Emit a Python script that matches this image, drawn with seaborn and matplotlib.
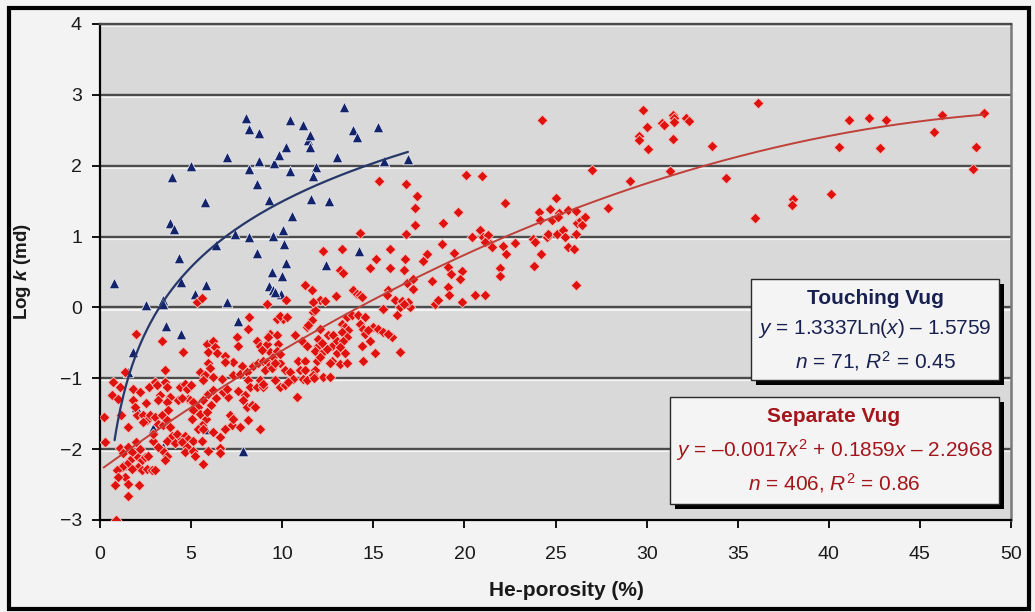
import numpy as np
import pandas as pd
import matplotlib
matplotlib.use("Agg")
import matplotlib.pyplot as plt
import matplotlib.transforms as mtransforms
from matplotlib.patches import Rectangle
import seaborn as sns

# ---------------------------------------------------------------------------
# Data: He-porosity (%) vs log permeability (md)
# ---------------------------------------------------------------------------
touching_vug = [
    (0.77, 0.34), (8.0, 2.68), (8.2, 2.52), (8.7, 2.46), (6.97, 2.13), (5.0, 1.99),
    (3.97, 1.84), (5.75, 1.49), (3.82, 1.19), (4.04, 1.10), (4.34, 0.70), (4.45, 0.36),
    (5.23, 0.19), (5.82, 0.32), (3.46, 0.11), (2.5, 0.03), (6.95, 0.07), (6.35, 0.88),
    (7.43, 1.03), (8.16, 0.99), (8.62, 0.77), (8.2, 1.96), (8.71, 2.07), (8.6, 1.74),
    (9.3, 1.51), (9.57, 2.04), (9.8, 2.15), (10.19, 2.27), (10.41, 2.65), (10.43, 1.92),
    (11.12, 2.58), (11.43, 2.36), (11.5, 2.43), (11.53, 2.26), (11.84, 1.98), (11.71, 1.86),
    (11.58, 1.53), (12.57, 1.50), (12.99, 2.12), (13.39, 2.83), (13.87, 2.50), (14.09, 2.40),
    (15.28, 2.55), (15.6, 2.07), (16.92, 2.10), (10.54, 1.29), (10.06, 1.09), (9.51, 1.01),
    (10.08, 0.90), (10.21, 0.62), (9.44, 0.50), (9.97, 0.45), (9.29, 0.30), (9.48, 0.25),
    (9.93, 0.19), (12.39, 0.60), (14.23, 0.80), (3.6, -0.26), (4.45, -0.37), (7.57, -0.19),
    (1.79, -0.63), (1.52, -0.91), (1.98, -1.41), (2.89, -1.70), (5.82, -1.71), (3.44, -1.97),
    (1.32, -2.0), (1.24, -2.23), (7.87, -2.02), (3.44, 0.05), (9.62, 0.22),
]

# Separate-vug samples, grouped by porosity range
separate_low = [
    (1.98, -0.37), (3.38, -0.47), (4.54, -0.63), (3.57, -0.89), (1.37, -0.91), (0.69, -1.05),
    (1.10, -1.13), (0.64, -1.23), (1.0, -1.29), (1.83, -1.15), (1.83, -1.31), (2.71, -1.13),
    (3.02, -1.05), (3.57, -1.05), (3.66, -1.13), (4.39, -1.13), (3.29, -1.24), (3.84, -1.27),
    (3.2, -1.31), (3.66, -1.34), (4.3, -1.31), (0.22, -1.55), (1.13, -1.52), (2.01, -1.52),
    (2.38, -1.52), (2.56, -1.59), (2.38, -1.62), (2.74, -1.52), (3.02, -1.55), (3.39, -1.52),
    (3.2, -1.64), (3.48, -1.66), (3.66, -1.59), (3.84, -1.69), (3.93, -1.81), (3.66, -1.88),
    (4.2, -1.78), (4.39, -1.88), (4.12, -1.92), (1.55, -1.69), (0.27, -1.90), (1.1, -1.99),
    (1.28, -2.06), (1.55, -1.97), (1.74, -2.04), (2.1, -2.11), (2.29, -2.16), (2.47, -2.11),
    (2.65, -2.09), (2.1, -2.25), (2.29, -2.30), (2.56, -2.28), (2.84, -2.30), (3.02, -2.30),
    (1.65, -2.16), (1.46, -2.21), (1.19, -2.25), (0.91, -2.30), (1.74, -2.28), (1.37, -2.39),
    (1.0, -2.39), (0.82, -2.51), (1.55, -2.49), (2.16, -2.51), (1.55, -2.66), (0.88, -3.0),
    (2.93, -1.88), (3.48, -2.02), (3.66, -2.09), (3.57, -2.16), (1.92, -1.41), (2.0, -1.90),
    (2.2, -2.0), (3.11, -1.10), (2.93, -1.78), (3.2, -1.97), (3.75, -1.45), (2.5, -1.35),
    (2.2, -1.2),
]

separate_mid = [
    (8.2, -0.13), (8.14, -0.30), (5.86, -0.51), (6.22, -0.47), (6.31, -0.56), (5.94, -0.63),
    (6.4, -0.65), (6.86, -0.68), (7.32, -0.77), (7.5, -0.42), (7.59, -0.54), (8.6, -0.47),
    (8.78, -0.54), (6.86, -0.77), (7.78, -0.82), (5.94, -0.79), (6.04, -0.86), (5.49, -0.91),
    (5.76, -0.96), (5.67, -1.03), (6.22, -0.98), (6.68, -1.01), (7.32, -0.96), (7.68, -0.94),
    (8.05, -0.91), (8.41, -0.82), (8.69, -0.79), (8.96, -0.75), (8.14, -1.03), (8.23, -1.12),
    (8.6, -1.12), (8.96, -1.13), (4.67, -1.08), (4.85, -1.29), (4.94, -1.31), (5.12, -1.34),
    (5.4, -1.41), (5.12, -1.45), (5.67, -1.31), (5.94, -1.22), (6.22, -1.17), (7.04, -1.27),
    (7.96, -1.24), (7.87, -1.31), (8.05, -1.41), (8.32, -1.38), (8.51, -1.41), (5.03, -1.57),
    (5.49, -1.50), (5.82, -1.57), (5.58, -1.66), (5.4, -1.71), (5.67, -1.71), (6.22, -1.76),
    (6.86, -1.71), (7.23, -1.66), (7.13, -1.52), (7.32, -1.57), (7.68, -1.69), (8.14, -1.59),
    (8.78, -1.71), (6.59, -1.83), (4.67, -1.81), (4.85, -1.85), (5.12, -1.88), (5.58, -1.88),
    (4.48, -1.90), (4.76, -1.97), (4.67, -2.04), (5.12, -2.02), (5.21, -2.09), (5.94, -2.02),
    (6.59, -1.99), (6.59, -2.06), (5.67, -2.21), (4.8, -1.15), (5.0, -1.10), (4.5, -1.28),
    (6.1, -1.38), (6.35, -1.28), (5.9, -1.47), (6.77, -1.19), (6.95, -1.15), (7.55, -1.18),
]

separate_upper_mid = [
    (11.71, -0.07), (9.7, -0.16), (10.06, -0.16), (9.88, -0.12), (10.25, -0.14), (11.62, -0.18),
    (11.34, -0.28), (12.07, -0.30), (9.33, -0.37), (9.7, -0.39), (10.7, -0.39), (11.07, -0.47),
    (12.53, -0.39), (9.15, -0.51), (11.34, -0.54), (11.98, -0.54), (12.71, -0.54), (9.33, -0.63),
    (9.51, -0.70), (9.15, -0.77), (9.29, -0.82), (9.88, -0.79), (10.89, -0.75), (11.25, -0.75),
    (11.8, -0.61), (12.26, -0.63), (12.44, -0.58), (11.9, -0.75), (12.07, -0.70), (12.71, -0.75),
    (12.62, -0.79), (9.06, -0.89), (9.42, -0.86), (10.15, -0.89), (10.98, -0.89), (11.25, -0.89),
    (11.8, -0.89), (11.71, -0.96), (12.26, -0.98), (12.62, -0.98), (8.78, -1.03), (8.96, -1.08),
    (9.6, -1.03), (9.88, -1.12), (10.15, -1.10), (10.8, -1.26), (10.43, -0.91), (10.61, -1.01),
    (10.3, -1.05), (11.16, -1.01), (11.35, -1.03), (11.75, -1.0), (11.8, -0.04), (11.43, -0.25),
    (11.98, -0.44), (12.17, -0.5), (8.87, -0.6), (9.24, -0.42), (9.79, -0.51), (9.7, -0.61),
    (9.88, -0.66), (9.6, -0.78), (12.81, -0.39), (12.99, -0.47), (12.99, -0.65), (13.17, -0.8),
]

separate_high = [
    (13.54, -0.14), (13.81, -0.11), (13.26, -0.23), (13.45, -0.28), (13.63, -0.32), (13.26, -0.35),
    (13.54, -0.42), (13.35, -0.47), (13.17, -0.56), (13.45, -0.65), (13.54, -0.79), (14.18, -0.11),
    (14.54, -0.14), (14.27, -0.23), (14.45, -0.30), (14.54, -0.37), (14.82, -0.47), (14.36, -0.54),
    (14.99, -0.28), (15.28, -0.30), (15.55, -0.35), (16.01, -0.42), (15.09, -0.65), (14.45, -0.75),
    (16.47, -0.63), (15.55, -0.02), (17.01, 0.0), (16.28, -0.11), (16.92, 0.07), (16.47, 0.0),
    (15.82, -0.37), (14.73, -0.32),
    (15.31, 1.79), (16.78, 1.74), (17.38, 1.57), (17.29, 1.41), (17.29, 1.17), (14.27, 1.05),
    (16.78, 1.04), (12.26, 0.79), (13.26, 0.83), (15.92, 0.83), (15.13, 0.69), (16.74, 0.69),
    (17.93, 0.76), (17.74, 0.65), (13.17, 0.53), (13.35, 0.48), (14.82, 0.55), (15.92, 0.55),
    (16.7, 0.53), (11.25, 0.31), (11.62, 0.24), (13.87, 0.24), (14.09, 0.19), (14.27, 0.18),
    (14.36, 0.15), (12.95, 0.16), (12.07, 0.10), (12.35, 0.09), (11.7, 0.07), (15.82, 0.25),
    (15.73, 0.18), (16.83, 0.34), (17.2, 0.26), (16.19, 0.11), (16.56, 0.09), (16.68, 0.05),
    (9.18, 0.05), (10.21, 0.11), (5.31, 0.07), (5.58, 0.14), (17.2, 0.40),
]

separate_very_high = [
    (20.07, 1.87), (20.95, 1.86), (27.02, 1.94), (22.25, 1.48), (19.67, 1.34), (18.81, 1.19),
    (25.03, 1.54), (24.09, 1.34), (24.15, 1.23), (24.7, 1.39), (24.79, 1.23), (25.2, 1.33),
    (25.16, 1.28), (25.7, 1.38), (26.1, 1.36), (26.2, 1.19), (26.4, 1.23), (26.6, 1.27),
    (26.47, 1.16), (24.52, 0.99), (24.6, 1.04), (25.1, 1.04), (25.43, 1.09), (25.52, 0.99),
    (26.1, 1.03), (23.78, 0.97), (23.87, 0.92), (25.7, 0.85), (26.0, 0.83), (24.2, 0.75),
    (23.84, 0.58), (26.1, 0.31), (20.43, 0.99), (20.86, 1.09), (21.04, 0.99), (21.22, 0.95),
    (21.4, 0.90), (21.5, 0.85), (21.31, 1.02), (21.13, 0.92), (22.14, 0.86), (22.28, 0.75),
    (22.8, 0.91), (21.95, 0.55), (21.95, 0.45), (18.75, 0.89), (19.43, 0.77), (19.12, 0.57),
    (19.25, 0.47), (19.85, 0.51), (19.76, 0.40), (18.24, 0.38), (19.12, 0.29), (19.17, 0.17),
    (20.58, 0.18), (21.13, 0.18), (19.85, 0.08), (18.39, 0.05), (18.57, 0.11),
    (24.26, 2.65), (29.82, 2.79), (30.0, 2.54), (29.6, 2.42), (29.6, 2.36), (30.1, 2.23),
    (30.86, 2.60), (30.97, 2.58), (31.43, 2.72), (31.5, 2.67), (31.5, 2.61), (32.15, 2.67),
    (32.3, 2.63), (31.47, 2.37), (33.57, 2.28), (36.1, 2.88), (34.36, 1.82), (35.93, 1.26),
    (38.05, 1.53), (37.98, 1.45), (40.12, 1.60), (40.54, 2.26), (41.09, 2.65), (42.19, 2.67),
    (43.14, 2.64), (42.81, 2.25), (45.79, 2.47), (46.23, 2.72), (48.53, 2.74), (48.06, 2.26),
    (47.93, 1.96), (29.1, 1.78), (31.28, 1.92), (27.9, 1.41),
]

# Trend-line coefficients
touching_fit = (1.3337, -1.5759)                 # y = a ln(x) + b
separate_fit = (-0.0017, 0.1859, -2.2968)         # y = a x^2 + b x + c
touching_range = (0.8, 16.9)
separate_range = (0.2, 48.5)

x_ticks = [0, 5, 10, 15, 20, 25, 30, 35, 40, 45, 50]
y_ticks = [-3, -2, -1, 0, 1, 2, 3, 4]

# ---------------------------------------------------------------------------
touch_df = pd.DataFrame(touching_vug, columns=["porosity", "logk"])
sep_df = pd.DataFrame(separate_low + separate_mid + separate_upper_mid
                      + separate_high + separate_very_high,
                      columns=["porosity", "logk"])

xt = np.linspace(*touching_range, 200)
touch_curve = pd.DataFrame({"porosity": xt,
                            "logk": touching_fit[0] * np.log(xt) + touching_fit[1]})
xs = np.linspace(*separate_range, 300)
sep_curve = pd.DataFrame({"porosity": xs,
                          "logk": np.polyval(separate_fit, xs)})

sns.set_theme(style="white")
plt.rcParams["font.family"] = ["Liberation Sans", "DejaVu Sans"]
plt.rcParams["mathtext.fontset"] = "custom"
plt.rcParams["mathtext.rm"] = "Liberation Sans"
plt.rcParams["mathtext.it"] = "Liberation Sans:italic"
plt.rcParams["mathtext.bf"] = "Liberation Sans:bold"
plt.rcParams["mathtext.bfit"] = "Liberation Sans:bold:italic"

W, H = 1035, 612
fig = plt.figure(figsize=(W / 100, H / 100), dpi=100, facecolor="#f3f3f3")
ax = fig.add_axes([100 / W, 1 - 520 / H, 911 / W, 496 / H])
ax.set_facecolor("#d9d9d9")
ax.set_xlim(0, 50)
ax.set_ylim(-3, 4)

# embossed horizontal grid
shadow = mtransforms.offset_copy(ax.get_yaxis_transform(), fig=fig, x=0, y=-2.2, units="dots")
for yv in y_ticks[1:]:
    ax.plot([0, 1], [yv, yv], transform=shadow, color="#f4f4f4", lw=1.6, zorder=1,
            solid_capstyle="butt")
    ax.axhline(yv, color="#4b4b4b", lw=1.7, zorder=1.5)

sns.scatterplot(data=touch_df, x="porosity", y="logk", marker="^", s=58,
                color="#13246a", edgecolor="#e8e8f0", linewidth=0.6, ax=ax, zorder=3)
sns.scatterplot(data=sep_df, x="porosity", y="logk", marker="D", s=30,
                color="#e0120f", edgecolor="#f2c4c0", linewidth=0.6, ax=ax, zorder=3)
sns.lineplot(data=touch_curve, x="porosity", y="logk", color="#263769", lw=1.6,
             ax=ax, zorder=4, estimator=None)
sns.lineplot(data=sep_curve, x="porosity", y="logk", color="#c0403a", lw=1.4,
             ax=ax, zorder=4, estimator=None)

ax.set_xticks(x_ticks)
ax.set_yticks(y_ticks)
ax.tick_params(axis="both", direction="out", length=6, width=1.3, color="black",
               labelsize=14, labelcolor="#1a1a1a", left=True, bottom=True)
ax.tick_params(axis="x", pad=13)
ax.tick_params(axis="y", pad=7)
for side in ("left", "bottom"):
    ax.spines[side].set_color("black")
    ax.spines[side].set_linewidth(1.6)
ax.spines["right"].set_color("#7a7a7a")
ax.spines["right"].set_linewidth(1.8)
ax.spines["top"].set_color("#4b4b4b")
ax.spines["top"].set_linewidth(1.7)

ax.set_xlabel("He-porosity (%)", fontsize=15, fontweight="bold", color="#1a1a1a")
ax.xaxis.set_label_coords(0.512, -0.122)
ax.set_ylabel(r"Log $\mathbfit{k}$ (md)", fontsize=13.5, fontweight="bold", color="#1a1a1a")
ax.yaxis.set_label_coords(-0.073, 0.5)


def px_rect(x0, y0, x1, y1, **kw):
    return Rectangle((x0 / W, 1 - y1 / H), (x1 - x0) / W, (y1 - y0) / H,
                     transform=fig.transFigure, **kw)


def px_text(x, y, s, **kw):
    fig.text(x / W, 1 - y / H, s, ha="center", va="center", zorder=6, **kw)


# outer frame
fig.add_artist(px_rect(9, 8, 1029, 609, fill=False, edgecolor="black", lw=3, zorder=5))

# equation boxes with drop shadow
for (x0, y0, x1, y1) in [(751, 279, 999, 380), (670, 397, 999, 504)]:
    fig.add_artist(px_rect(x0 + 5, y0 + 5, x1 + 5, y1 + 5, facecolor="black",
                           edgecolor="none", zorder=4))
    fig.add_artist(px_rect(x0, y0, x1, y1, facecolor="#f4f4f4", edgecolor="#2a2a2a",
                           lw=1.0, zorder=4.5))

navy = "#18204f"
px_text(875, 298, "Touching Vug", fontsize=15, fontweight="bold", color=navy)
px_text(875, 329, r"$y$ = %.4fLn($x$) – %.4f" % (touching_fit[0], -touching_fit[1]),
        fontsize=15, color=navy)
px_text(875, 361, r"$n$ = 71, $R^2$ = 0.45", fontsize=15, color=navy)

wine = "#a3161c"
px_text(834, 417, "Separate Vug", fontsize=15, fontweight="bold", color=wine)
px_text(834, 450, r"$y$ = –%.4f$x^2$ + %.4f$x$ – %.4f"
        % (-separate_fit[0], separate_fit[1], -separate_fit[2]),
        fontsize=15, color=wine)
px_text(834, 483, r"$n$ = 406, $R^2$ = 0.86", fontsize=15, color=wine)

fig.savefig("out.png", dpi=100, facecolor=fig.get_facecolor())
